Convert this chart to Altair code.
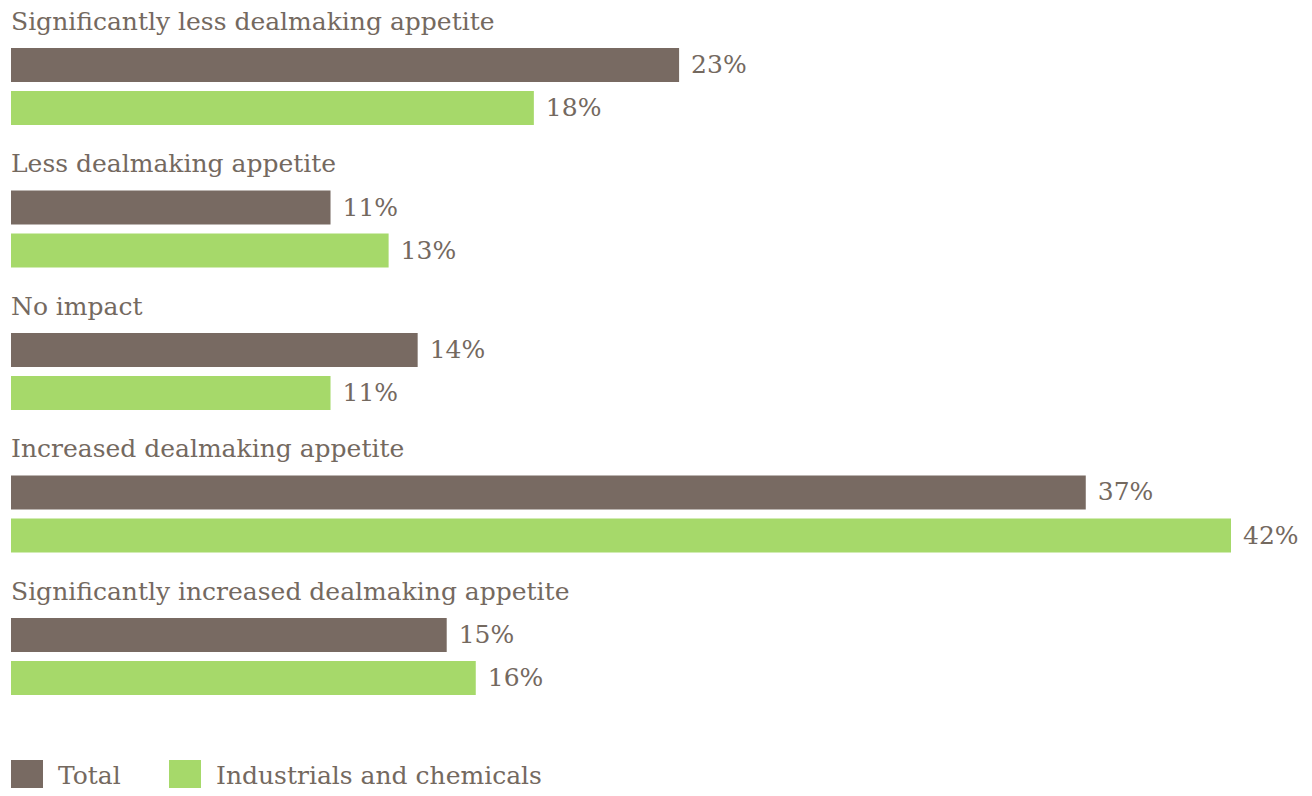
import altair as alt
import pandas as pd

categories = [
    "Significantly less dealmaking appetite",
    "Less dealmaking appetite",
    "No impact",
    "Increased dealmaking appetite",
    "Significantly increased dealmaking appetite",
]
series = ["Total", "Industrials and chemicals"]
total = [23, 11, 14, 37, 15]
industrials = [18, 13, 11, 42, 16]

colors = ["#786a62", "#a6d96a"]
text_color = "#74695f"
font = "DejaVu Serif"

rows = []
for c, t, i in zip(categories, total, industrials):
    rows.append({"category": c, "series": series[0], "value": t, "label": f"{t}%"})
    rows.append({"category": c, "series": series[1], "value": i, "label": f"{i}%"})
df = pd.DataFrame(rows)
cat_df = pd.DataFrame({"category": categories, "series": ["label"] * len(categories)})

y_enc = alt.Y(
    "category:N",
    sort=categories,
    axis=None,
    scale=alt.Scale(domain=categories, range=[-7.5, 691.5], paddingInner=0.0947, paddingOuter=0),
)
yoff_enc = alt.YOffset(
    "series:N",
    scale=alt.Scale(domain=["label"] + series, paddingInner=0.21, paddingOuter=0.105),
)
x_enc = alt.X("value:Q", axis=None, scale=alt.Scale(domain=[0, 42], nice=False, zero=True))

bars = alt.Chart(df).mark_bar().encode(
    y=y_enc,
    yOffset=yoff_enc,
    x=x_enc,
    color=alt.Color(
        "series:N",
        scale=alt.Scale(domain=series, range=colors),
        legend=alt.Legend(
            title=None,
            orient="none",
            legendX=0,
            legendY=752,
            direction="horizontal",
            symbolType="square",
            symbolSize=1024,
            symbolStrokeWidth=0,
            symbolOpacity=1,
            labelFont=font,
            labelFontSize=25,
            labelColor=text_color,
            labelOffset=15,
            labelLimit=0,
            columnPadding=48,
            padding=0,
        ),
    ),
)

values = alt.Chart(df).mark_text(
    align="left", baseline="middle", dx=12, font=font, fontSize=25, color=text_color
).encode(y=y_enc, yOffset=yoff_enc, x=x_enc, text="label:N")

cat_labels = alt.Chart(cat_df).mark_text(
    align="left", baseline="middle", font=font, fontSize=25, color=text_color
).encode(y=y_enc, yOffset=yoff_enc, x=alt.value(0), text="category:N")

chart = (
    alt.layer(bars, values, cat_labels)
    .properties(
        width=1220,
        height=700,
        autosize=alt.AutoSizeParams(type="none"),
        padding={"left": 3, "top": 0, "right": 70, "bottom": 80},
    )
    .configure_view(stroke=None)
)

chart.save("out.html", embed_options={"renderer": "svg", "actions": False})
